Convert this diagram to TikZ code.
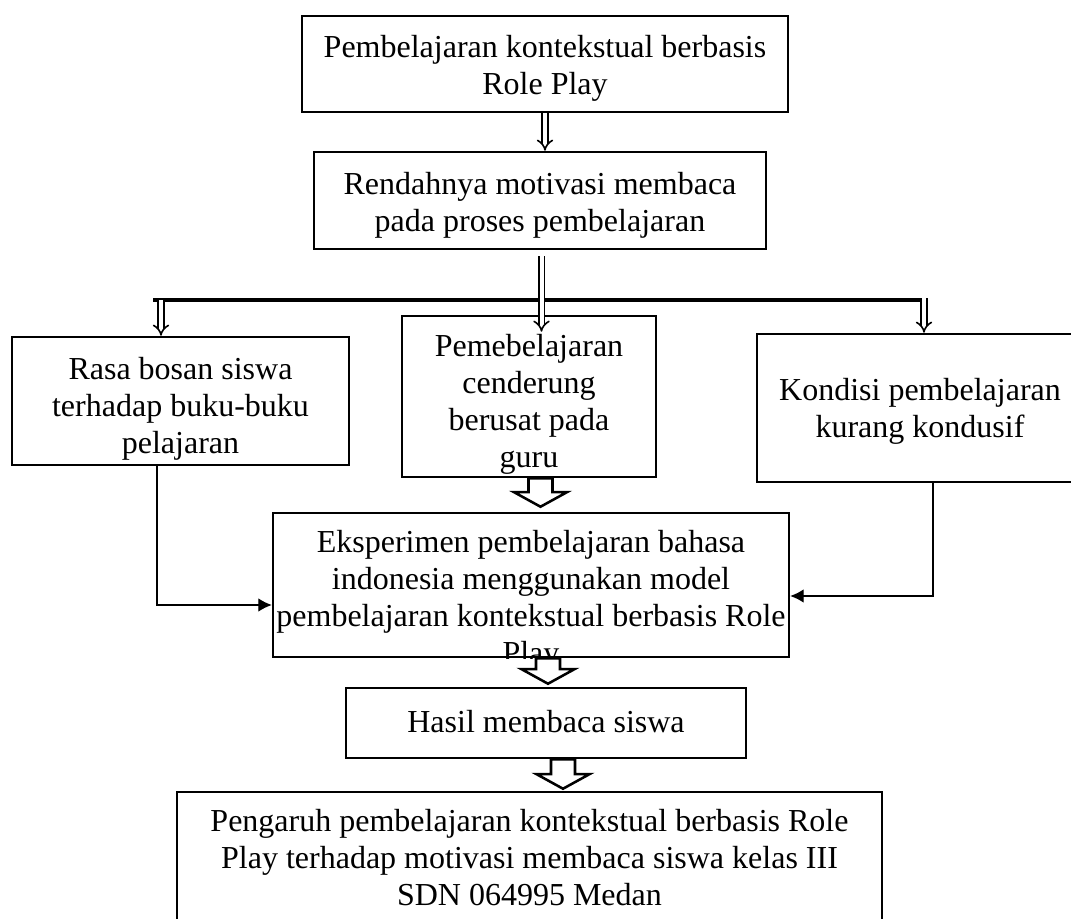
\documentclass[tikz,border=0pt]{standalone}
\usepackage{fontspec}
\setmainfont{Liberation Serif}
\usetikzlibrary{calc,positioning,arrows.meta}

% hollow block arrow from #1 down to the height of #2
\newcommand{\panahblok}[2]{%
  \draw[blok] let \p1=(#1), \p2=(#2) in
    (\x1-9pt,\y1) -- (\x1+9pt,\y1) -- (\x1+9pt,\y2+11pt) -- (\x1+20pt,\y2+11pt)
    -- (\x1,\y2) -- (\x1-20pt,\y2+11pt) -- (\x1-9pt,\y2+11pt) -- cycle;}

\begin{document}
\begin{tikzpicture}[x=0.75pt,y=-0.75pt,
    kotak/.style={draw, line width=1.9pt, inner sep=0pt},
    teks/.style={inner sep=0pt, align=center, anchor=north, font=\fontsize{24}{27.7}\selectfont},
    ganda/.style={double, double distance=3pt, line width=1.2pt, -{Implies}},
    tipis/.style={line width=0.8pt, -{Latex[length=10pt,width=10pt]}},
    blok/.style={line width=1.9pt, fill=white, line join=miter}]

    \useasboundingbox (0,0) rectangle (1071,919);

    % boxes
    \node[kotak, minimum width=364.5pt, minimum height=72pt] (atas) at (545,64) {};
    \node[kotak, minimum width=339pt, minimum height=72.75pt] (rendah) at (540,200.5) {};
    \node[kotak, minimum width=252.75pt, minimum height=96pt] (bosan) at (180.5,401) {};
    \node[kotak, minimum width=190.5pt, minimum height=120.75pt] (guru) at (529,396.5) {};
    \node[kotak, minimum width=244.5pt, minimum height=111pt] (kondisi) at (920,408) {};
    \node[kotak, minimum width=387pt, minimum height=108pt] (eksp) at (531,585) {};
    \node[kotak, minimum width=300pt, minimum height=52.5pt] (hasil) at (546,723) {};
    \node[kotak, minimum width=528.75pt, minimum height=112.5pt] (pengaruh) at (529.5,867) {};

    % texts
    \node[teks] (t-atas) at ($(atas.north)+(0,20)$) {Pembelajaran kontekstual berbasis\\Role Play};
    \node[teks] (t-rendah) at ($(rendah.north)+(0,21)$) {Rendahnya motivasi membaca\\pada proses pembelajaran};
    \begin{scope}
      \clip (bosan.north west) rectangle (bosan.south east);
      \node[teks] (t-bosan) at ($(bosan.north)+(0,21)$) {Rasa bosan siswa\\terhadap buku-buku\\pelajaran};
    \end{scope}
    \begin{scope}
      \clip (guru.north west) rectangle (guru.south east);
      \node[teks] (t-guru) at ($(guru.north)+(0,19)$) {Pemebelajaran\\cenderung\\berusat pada\\guru};
    \end{scope}
    \node[teks] (t-kondisi) at ($(kondisi.north)+(0,45)$) {Kondisi pembelajaran\\kurang kondusif};
    \begin{scope}
      \clip (eksp.north west) rectangle (eksp.south east);
      \node[teks] (t-eksp) at ($(eksp.north)+(0,18)$) {Eksperimen pembelajaran bahasa\\indonesia menggunakan model\\pembelajaran kontekstual berbasis Role\\Play};
    \end{scope}
    \node[teks] (t-hasil) at ($(hasil.north)+(0,23)$) {Hasil membaca siswa};
    \node[teks] (t-pengaruh) at ($(pengaruh.north)+(0,18)$) {Pengaruh pembelajaran kontekstual berbasis Role\\Play terhadap motivasi membaca siswa kelas III\\SDN 064995 Medan};

    % top arrow
    \draw[ganda] (atas.south) -- (atas.south |- rendah.north);

    % branching bar
    \coordinate (pusat) at ($(rendah.south)+(1.5,6)$);
    \coordinate (bkiri) at ($(pusat)+(-388.5,44)$);
    \coordinate (bkanan) at ($(pusat)+(385.5,44)$);
    \coordinate (kiriA) at ($(bkiri)+(8,0)$);
    \coordinate (kananA) at ($(bkanan)+(-3,-2)$);
    \draw[line width=3pt] (bkiri) -- (bkanan);
    \draw[ganda] (pusat) -- ($(pusat |- guru.north)+(0,17)$);
    \draw[ganda] (kiriA) -- (kiriA |- bosan.north);
    \draw[ganda] (kananA) -- (kananA |- kondisi.north);

    % side connectors
    \draw[tipis] ($(bosan.south)+(-23.5,0)$) |- ($(eksp.west)+(0,20)$);
    \draw[tipis] ($(kondisi.south)+(13,0)$) |- ($(eksp.east)+(0,11)$);

    % block arrows
    \panahblok{$(guru.south)+(11.5,0)$}{$(eksp.north)+(0,-5)$}
    \panahblok{$(eksp.south)+(17,0)$}{$(hasil.north)+(0,-3)$}
    \panahblok{$(hasil.south)+(17,0)$}{$(pengaruh.north)+(0,-2)$}
\end{tikzpicture}
\end{document}
